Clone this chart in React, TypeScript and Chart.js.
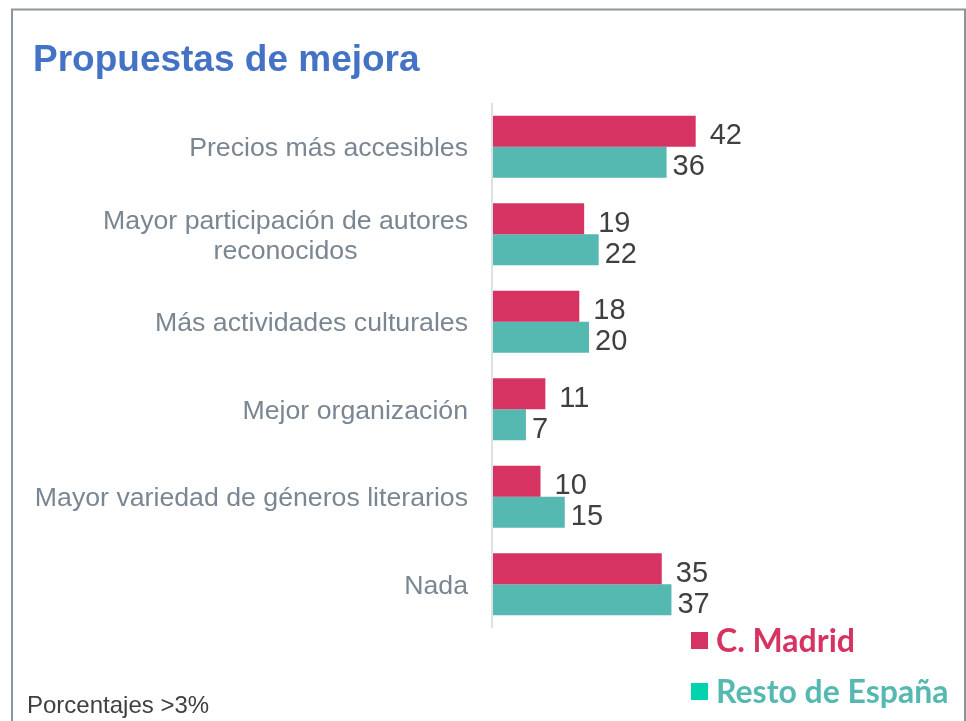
import React, { useEffect, useRef } from "react";
import { Chart, registerables } from "chart.js";

Chart.register(...registerables);

const categories: string[][] = [
  ["Precios más accesibles"],
  ["Mayor participación de autores", "reconocidos"],
  ["Más actividades culturales"],
  ["Mejor organización"],
  ["Mayor variedad de géneros literarios"],
  ["Nada"],
];
const madridValues = [42, 19, 18, 11, 10, 35];
const restoValues = [36, 22, 20, 7, 15, 37];
const seriesNames = ["C. Madrid", "Resto de España"];
const titleText = "Propuestas de mejora";
const footnoteText = "Porcentajes >3%";

const MADRID = "#D63362";
const TEAL = "#55B9B2";
const TEAL_SWATCH = "#00D3AE";
const LABEL_GRAY = "#7A8692";
const VALUE_GRAY = "#404040";

const decorPlugin = {
  id: "decor",
  afterDraw(chart: any) {
    const ctx = chart.ctx as CanvasRenderingContext2D;
    const area = chart.chartArea;
    const xScale = chart.scales.x;
    const yScale = chart.scales.y;
    ctx.save();

    // frame
    ctx.strokeStyle = "#8C959C";
    ctx.lineWidth = 2;
    ctx.beginPath();
    ctx.moveTo(12, 760);
    ctx.lineTo(12, 9.5);
    ctx.lineTo(965, 9.5);
    ctx.lineTo(965, 760);
    ctx.stroke();

    // title
    ctx.fillStyle = "#4472C4";
    ctx.font = "bold 37px 'Liberation Sans', Arial, sans-serif";
    ctx.textAlign = "left";
    ctx.textBaseline = "alphabetic";
    ctx.fillText(titleText, 33, 71);

    // axis line
    const x0 = xScale.getPixelForValue(0);
    ctx.strokeStyle = "#DDE1E4";
    ctx.lineWidth = 2;
    ctx.beginPath();
    ctx.moveTo(x0, area.top);
    ctx.lineTo(x0, area.bottom);
    ctx.stroke();

    // category labels
    ctx.font = "26.7px 'Liberation Sans', Arial, sans-serif";
    ctx.fillStyle = LABEL_GRAY;
    ctx.textBaseline = "middle";
    ctx.textAlign = "center";
    const lineH = 30;
    categories.forEach((lines, i) => {
      const yc = yScale.getPixelForValue(i) + 2;
      const widths = lines.map((l) => ctx.measureText(l).width);
      const maxW = Math.max(...widths);
      const right = 468;
      const cx = right - maxW / 2;
      const startY = yc - ((lines.length - 1) * lineH) / 2;
      lines.forEach((l, k) => {
        ctx.fillText(l, cx, startY + k * lineH);
      });
    });

    // value labels
    ctx.font = "29px 'Liberation Sans', Arial, sans-serif";
    ctx.fillStyle = VALUE_GRAY;
    ctx.textAlign = "left";
    ctx.textBaseline = "middle";
    const offsets = [14, 6];
    chart.data.datasets.forEach((ds: any, di: number) => {
      const meta = chart.getDatasetMeta(di);
      meta.data.forEach((el: any, j: number) => {
        ctx.fillText(String(ds.data[j]), el.x + offsets[di], el.y + 5);
      });
    });

    // legend
    const swatches = [MADRID, TEAL_SWATCH];
    const textColors = [MADRID, TEAL];
    const baselines = [652, 703];
    ctx.font = "bold 32px Lato, 'Liberation Sans', sans-serif";
    ctx.textBaseline = "alphabetic";
    seriesNames.forEach((name, i) => {
      ctx.fillStyle = swatches[i];
      ctx.fillRect(691, baselines[i] - 20, 17, 17);
      ctx.fillStyle = textColors[i];
      ctx.fillText(name, 716, baselines[i]);
    });

    // footnote
    ctx.font = "24px 'Liberation Sans', Arial, sans-serif";
    ctx.fillStyle = VALUE_GRAY;
    ctx.fillText(footnoteText, 27, 713);

    ctx.restore();
  },
};

export default function App() {
  const ref = useRef<HTMLCanvasElement | null>(null);
  useEffect(() => {
    if (!ref.current) return;
    const chart = new Chart(ref.current, {
      type: "bar",
      data: {
        labels: categories.map((c) => c.join(" ")),
        datasets: [
          {
            label: seriesNames[0],
            data: madridValues,
            backgroundColor: MADRID,
            borderWidth: 0,
            categoryPercentage: 0.71,
            barPercentage: 1,
          },
          {
            label: seriesNames[1],
            data: restoValues,
            backgroundColor: TEAL,
            borderWidth: 0,
            categoryPercentage: 0.71,
            barPercentage: 1,
          },
        ],
      },
      options: {
        indexAxis: "y",
        animation: false,
        responsive: true,
        maintainAspectRatio: false,
        layout: { padding: { left: 492, right: 37.5, top: 103, bottom: 93 } },
        scales: {
          x: { display: false, min: 0, max: 90 },
          y: { display: false },
        },
        plugins: {
          legend: { display: false },
          tooltip: { enabled: false },
          title: { display: false },
        },
      },
      plugins: [decorPlugin],
    });
    return () => chart.destroy();
  }, []);
  return (
    <div style={{ position: "absolute", left: 0, top: 0, width: 966, height: 721, background: "#fff" }}>
      <canvas ref={ref} />
    </div>
  );
}
